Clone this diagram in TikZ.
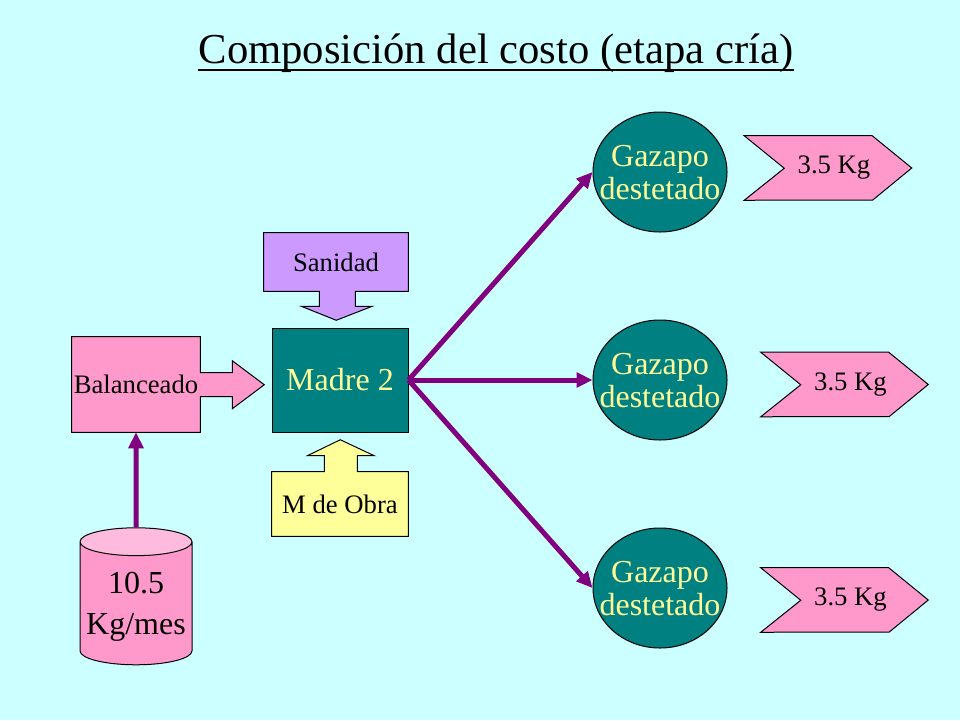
\documentclass[tikz,border=0pt]{standalone}
\usepackage{fontspec}
\setmainfont{Liberation Serif}
\usetikzlibrary{shapes.geometric,arrows.meta}
\pgfdeclarelayer{bg}
\pgfsetlayers{bg,main}
\definecolor{bgcyan}{HTML}{CCFFFF}
\definecolor{tealfill}{HTML}{008080}
\definecolor{lightyel}{HTML}{FFFF99}
\definecolor{pinkfill}{HTML}{FF99CC}
\definecolor{lilac}{HTML}{CC99FF}
\definecolor{flowpurple}{HTML}{800080}
\definecolor{cyltop}{HTML}{FFBBDD}
\newcommand{\twolines}[2]{\raisebox{-3bp}[\height][\depth]{\makebox[0pt]{\begin{tabular}{@{}c@{}}#1\\#2\end{tabular}}}}
\begin{document}
\begin{tikzpicture}[x=0.026458cm,y=-0.026458cm,
  txt/.style={font=\fontsize{20bp}{24bp}\selectfont,align=center,inner sep=0pt},
  big/.style={font=\fontsize{24bp}{25bp}\selectfont,align=center,inner sep=0pt},
  box/.style={draw=black,line width=0.75bp},
  flow/.style={draw=flowpurple,line width=3.75bp,-{Triangle[length=12bp,width=11bp]}},
  gazapo/.style={big,ellipse,box,fill=tealfill,text=lightyel,minimum width=100.5bp,minimum height=90bp},
  kg/.style={txt,minimum width=125.25bp,minimum height=48bp}]
% Background
\begin{pgfonlayer}{bg}
\fill[bgcyan] (0,0) rectangle (960,720);
\end{pgfonlayer}
\useasboundingbox (0,0) rectangle (960,720);

% Title
\node[font=\fontsize{32bp}{38bp}\selectfont,inner sep=0pt,anchor=base] (title) at (496,63) {Composición del costo (etapa cría)};
\draw[line width=1.5bp] ([yshift=-5bp]title.base west) -- ([yshift=-5bp]title.base east);

% Inputs and mother
\node[txt,minimum width=96bp,minimum height=71.25bp] (bal) at (136,384.5) {Balanceado};
\node[big,box,fill=tealfill,text=lightyel,minimum width=102bp,minimum height=78bp] (madre) at (340,380) {Madre 2};
\node[txt,minimum width=108bp,minimum height=43.5bp] (san) at (336,262) {Sanidad};
\node[txt,minimum width=102bp,minimum height=48bp] (obra) at (340,504) {M de Obra};
\node[big,cylinder,shape border rotate=90,aspect=0.28,box,cylinder uses custom fill,
  cylinder body fill=pinkfill,cylinder end fill=cyltop,
  minimum width=84bp,minimum height=102.75bp] (cyl) at (136,603.5)
  {\raisebox{-3bp}[\height][\depth]{\begin{tabular}{@{}c@{}}10.5\\[6bp]Kg/mes\end{tabular}}};

% Weaned kits
\node[gazapo] (g1) at (660,172) {\twolines{Gazapo}{destetado}};
\node[gazapo] (g2) at (660,380) {\twolines{Gazapo}{destetado}};
\node[gazapo] (g3) at (660,588) {\twolines{Gazapo}{destetado}};

% Weights
\node[kg] (kg1) at (828,168) {\kern9bp3.5 Kg};
\node[kg] (kg2) at (844.5,384.5) {\kern9bp3.5 Kg};
\node[kg] (kg3) at (844.5,600) {\kern9bp3.5 Kg};

% Callout shapes behind the texts
\begin{pgfonlayer}{bg}
\draw[box,fill=pinkfill] (bal.north west) -- (bal.north east) -- ++(0,36) -- ++(32,0) -- ++(0,-12)
  -- ++(32,24) -- ++(-32,24) -- ++(0,-12) -- ++(-32,0) -- (bal.south east) -- (bal.south west) -- cycle;
\draw[box,fill=lilac] (san.north west) -- (san.north east) -- (san.south east) -- ++(-53,0) -- ++(0,15)
  -- ++(17,0) -- ++(-36,14) -- ++(-35,-14) -- ++(18,0) -- ++(0,-15) -- (san.south west) -- cycle;
\draw[box,fill=lightyel] (obra.south west) -- (obra.south east) -- (obra.north east) -- ++(-51,0) -- ++(0,-16)
  -- ++(17,0) -- ++(-34,-16) -- ++(-33,16) -- ++(17,0) -- ++(0,16) -- (obra.north west) -- cycle;
\foreach \k in {kg1,kg2,kg3}
  \draw[box,fill=pinkfill] (\k.north west) -- ++(128,0) -- (\k.east) -- ++(-39,32) -- (\k.south west) -- ++(40,-32) -- cycle;
\end{pgfonlayer}

% Flow arrows
\draw[flow] (cyl) -- (bal);
\draw[flow] (madre.east) -- (g1.west);
\draw[flow] (madre.east) -- (g2.west);
\draw[flow] (madre.east) -- (g3.west);
\end{tikzpicture}
\end{document}
